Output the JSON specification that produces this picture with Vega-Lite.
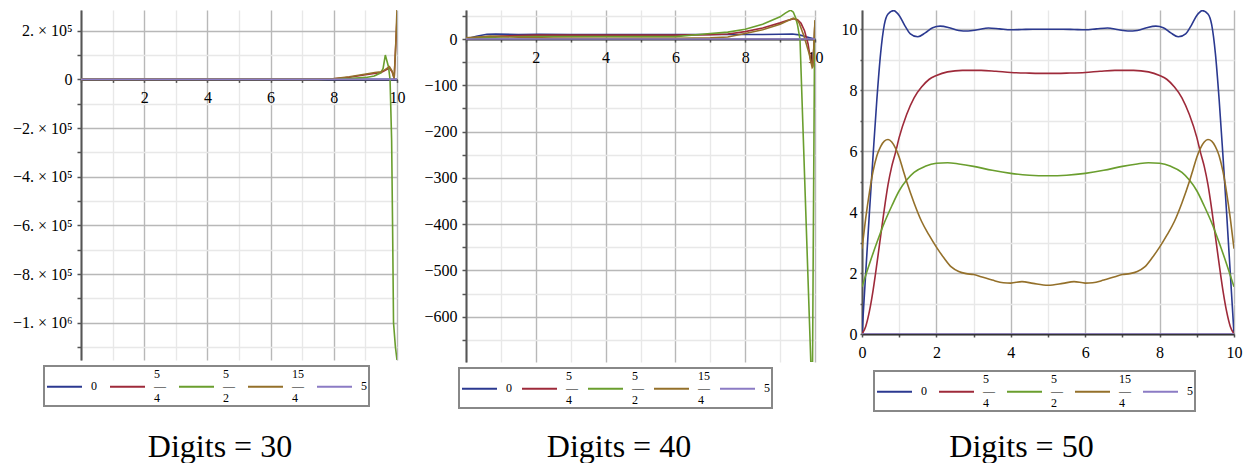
{
"$schema": "https://vega.github.io/schema/vega-lite/v6.json",
"background": "white",
"padding": {"left": 12, "top": 7, "right": 5, "bottom": 0},
"spacing": 18,
"datasets": {
"d30": [
{"s":"0","x":0,"y":0},{"s":"0","x":10,"y":0},
{"s":"5/4","x":0,"y":0},{"s":"5/4","x":7.5,"y":0},{"s":"5/4","x":8,"y":2000},{"s":"5/4","x":8.5,"y":9000},{"s":"5/4","x":9,"y":19000},{"s":"5/4","x":9.5,"y":28000},{"s":"5/4","x":9.76,"y":47000},{"s":"5/4","x":9.85,"y":30000},{"s":"5/4","x":9.91,"y":3000},{"s":"5/4","x":10,"y":250000},
{"s":"5/2","x":0,"y":0},{"s":"5/2","x":7.5,"y":0},{"s":"5/2","x":8.49,"y":3000},{"s":"5/2","x":9.02,"y":8000},{"s":"5/2","x":9.28,"y":13500},{"s":"5/2","x":9.49,"y":27000},{"s":"5/2","x":9.56,"y":45000},{"s":"5/2","x":9.63,"y":100000},{"s":"5/2","x":9.73,"y":52000},{"s":"5/2","x":9.78,"y":0},{"s":"5/2","x":9.83,"y":-250000},{"s":"5/2","x":9.86,"y":-600000},{"s":"5/2","x":9.89,"y":-1000000},{"s":"5/2","x":9.95,"y":-1100000},{"s":"5/2","x":10,"y":-1153000},
{"s":"15/4","x":0,"y":0},{"s":"15/4","x":7.5,"y":500},{"s":"15/4","x":7.96,"y":2500},{"s":"15/4","x":8.49,"y":11000},{"s":"15/4","x":9.02,"y":22000},{"s":"15/4","x":9.3,"y":28000},{"s":"15/4","x":9.49,"y":31000},{"s":"15/4","x":9.6,"y":38000},{"s":"15/4","x":9.76,"y":52000},{"s":"15/4","x":9.84,"y":35000},{"s":"15/4","x":9.91,"y":4000},{"s":"15/4","x":9.96,"y":140000},{"s":"15/4","x":10,"y":290000},
{"s":"5","x":0,"y":0},{"s":"5","x":10,"y":0}
],
"d40": [
{"s":"0","x":0,"y":0},{"s":"0","x":0.3,"y":6},{"s":"0","x":0.6,"y":10.2},{"s":"0","x":0.85,"y":10.7},{"s":"0","x":1.5,"y":9.8},{"s":"0","x":2.1,"y":10.1},{"s":"0","x":3,"y":10},{"s":"0","x":5,"y":10},{"s":"0","x":7,"y":10},{"s":"0","x":8,"y":10},{"s":"0","x":8.5,"y":9.8},{"s":"0","x":9,"y":10.3},{"s":"0","x":9.35,"y":11},{"s":"0","x":9.55,"y":9},{"s":"0","x":9.7,"y":6},{"s":"0","x":9.85,"y":3},{"s":"0","x":10,"y":0},
{"s":"5/4","x":0,"y":0},{"s":"5/4","x":0.5,"y":3.2},{"s":"5/4","x":1,"y":6.5},{"s":"5/4","x":2,"y":8.5},{"s":"5/4","x":3,"y":8.6},{"s":"5/4","x":5,"y":8.5},{"s":"5/4","x":6,"y":8.6},{"s":"5/4","x":7,"y":9.5},{"s":"5/4","x":7.5,"y":11},{"s":"5/4","x":8,"y":16},{"s":"5/4","x":8.5,"y":24},{"s":"5/4","x":9,"y":35},{"s":"5/4","x":9.2,"y":40},{"s":"5/4","x":9.4,"y":44},{"s":"5/4","x":9.5,"y":42},{"s":"5/4","x":9.6,"y":34},{"s":"5/4","x":9.7,"y":18},{"s":"5/4","x":9.8,"y":-10},{"s":"5/4","x":9.88,"y":-48},{"s":"5/4","x":9.93,"y":-58},{"s":"5/4","x":9.97,"y":-15},{"s":"5/4","x":10,"y":38},
{"s":"5/2","x":0,"y":1.5},{"s":"5/2","x":1,"y":4.7},{"s":"5/2","x":2,"y":5.6},{"s":"5/2","x":3,"y":5.5},{"s":"5/2","x":5,"y":5.2},{"s":"5/2","x":6,"y":5.3},{"s":"5/2","x":7,"y":12},{"s":"5/2","x":7.5,"y":15},{"s":"5/2","x":8,"y":21},{"s":"5/2","x":8.5,"y":32},{"s":"5/2","x":9,"y":48},{"s":"5/2","x":9.15,"y":56},{"s":"5/2","x":9.3,"y":62.5},{"s":"5/2","x":9.38,"y":58},{"s":"5/2","x":9.45,"y":45},{"s":"5/2","x":9.5,"y":30},{"s":"5/2","x":9.57,"y":0},{"s":"5/2","x":9.65,"y":-180},{"s":"5/2","x":9.72,"y":-338},{"s":"5/2","x":9.8,"y":-518},{"s":"5/2","x":9.88,"y":-698},{"s":"5/2","x":9.93,"y":-698},{"s":"5/2","x":9.96,"y":-330},{"s":"5/2","x":9.99,"y":20},{"s":"5/2","x":10,"y":38},
{"s":"15/4","x":0,"y":2.8},{"s":"15/4","x":0.7,"y":6.4},{"s":"15/4","x":1.5,"y":4},{"s":"15/4","x":2.5,"y":2.1},{"s":"15/4","x":4,"y":1.7},{"s":"15/4","x":5,"y":1.6},{"s":"15/4","x":6,"y":1.7},{"s":"15/4","x":7,"y":2.5},{"s":"15/4","x":7.5,"y":4.5},{"s":"15/4","x":8,"y":12},{"s":"15/4","x":8.5,"y":20},{"s":"15/4","x":9,"y":32},{"s":"15/4","x":9.2,"y":39},{"s":"15/4","x":9.38,"y":45},{"s":"15/4","x":9.5,"y":40},{"s":"15/4","x":9.55,"y":34},{"s":"15/4","x":9.69,"y":5},{"s":"15/4","x":9.83,"y":-31},{"s":"15/4","x":9.92,"y":-62},{"s":"15/4","x":9.94,"y":-60},{"s":"15/4","x":9.97,"y":-10},{"s":"15/4","x":10,"y":41},
{"s":"5","x":0,"y":0},{"s":"5","x":10,"y":0}
],
"d50": [
{"s":"0","x":0,"y":0},{"s":"0","x":0.1,"y":2.0},{"s":"0","x":0.2,"y":4.0},{"s":"0","x":0.3,"y":5.9},{"s":"0","x":0.4,"y":7.7},{"s":"0","x":0.5,"y":9.2},{"s":"0","x":0.6,"y":10.15},{"s":"0","x":0.7,"y":10.5},{"s":"0","x":0.85,"y":10.61},{"s":"0","x":1.0,"y":10.45},{"s":"0","x":1.15,"y":10.12},{"s":"0","x":1.3,"y":9.85},{"s":"0","x":1.5,"y":9.75},{"s":"0","x":1.7,"y":9.88},{"s":"0","x":1.9,"y":10.05},{"s":"0","x":2.1,"y":10.1},{"s":"0","x":2.35,"y":10.05},{"s":"0","x":2.6,"y":9.96},{"s":"0","x":2.85,"y":9.94},{"s":"0","x":3.1,"y":9.98},{"s":"0","x":3.4,"y":10.04},{"s":"0","x":3.7,"y":10.01},{"s":"0","x":4.0,"y":9.98},{"s":"0","x":4.3,"y":9.99},{"s":"0","x":4.6,"y":10.0},{"s":"0","x":5.0,"y":10.0},{"s":"0","x":5.4,"y":10.0},{"s":"0","x":5.7,"y":9.99},{"s":"0","x":6.0,"y":9.98},{"s":"0","x":6.3,"y":10.01},{"s":"0","x":6.6,"y":10.04},{"s":"0","x":6.9,"y":9.98},{"s":"0","x":7.15,"y":9.94},{"s":"0","x":7.4,"y":9.96},{"s":"0","x":7.65,"y":10.05},{"s":"0","x":7.9,"y":10.1},{"s":"0","x":8.1,"y":10.05},{"s":"0","x":8.3,"y":9.88},{"s":"0","x":8.5,"y":9.75},{"s":"0","x":8.7,"y":9.85},{"s":"0","x":8.85,"y":10.12},{"s":"0","x":9.0,"y":10.45},{"s":"0","x":9.15,"y":10.61},{"s":"0","x":9.3,"y":10.5},{"s":"0","x":9.4,"y":10.15},{"s":"0","x":9.5,"y":9.2},{"s":"0","x":9.6,"y":7.7},{"s":"0","x":9.7,"y":5.9},{"s":"0","x":9.8,"y":4.0},{"s":"0","x":9.9,"y":2.0},{"s":"0","x":10,"y":0},
{"s":"5/4","x":0,"y":0},{"s":"5/4","x":0.1,"y":0.25},{"s":"5/4","x":0.2,"y":0.75},{"s":"5/4","x":0.3,"y":1.45},{"s":"5/4","x":0.4,"y":2.3},{"s":"5/4","x":0.5,"y":3.2},{"s":"5/4","x":0.6,"y":4.1},{"s":"5/4","x":0.7,"y":4.9},{"s":"5/4","x":0.8,"y":5.5},{"s":"5/4","x":0.9,"y":5.95},{"s":"5/4","x":1.0,"y":6.45},{"s":"5/4","x":1.2,"y":7.2},{"s":"5/4","x":1.4,"y":7.75},{"s":"5/4","x":1.6,"y":8.1},{"s":"5/4","x":1.8,"y":8.35},{"s":"5/4","x":2.0,"y":8.48},{"s":"5/4","x":2.3,"y":8.6},{"s":"5/4","x":2.7,"y":8.65},{"s":"5/4","x":3.2,"y":8.65},{"s":"5/4","x":3.6,"y":8.62},{"s":"5/4","x":4.0,"y":8.58},{"s":"5/4","x":4.5,"y":8.56},{"s":"5/4","x":5.0,"y":8.55},{"s":"5/4","x":5.5,"y":8.56},{"s":"5/4","x":6.0,"y":8.58},{"s":"5/4","x":6.4,"y":8.62},{"s":"5/4","x":6.8,"y":8.65},{"s":"5/4","x":7.3,"y":8.65},{"s":"5/4","x":7.7,"y":8.6},{"s":"5/4","x":8.0,"y":8.48},{"s":"5/4","x":8.2,"y":8.35},{"s":"5/4","x":8.4,"y":8.1},{"s":"5/4","x":8.6,"y":7.75},{"s":"5/4","x":8.8,"y":7.2},{"s":"5/4","x":9.0,"y":6.45},{"s":"5/4","x":9.1,"y":5.95},{"s":"5/4","x":9.2,"y":5.5},{"s":"5/4","x":9.3,"y":4.9},{"s":"5/4","x":9.4,"y":4.1},{"s":"5/4","x":9.5,"y":3.2},{"s":"5/4","x":9.6,"y":2.3},{"s":"5/4","x":9.7,"y":1.45},{"s":"5/4","x":9.8,"y":0.75},{"s":"5/4","x":9.9,"y":0.25},{"s":"5/4","x":10,"y":0},
{"s":"5/2","x":0,"y":1.55},{"s":"5/2","x":0.2,"y":2.3},{"s":"5/2","x":0.4,"y":3.0},{"s":"5/2","x":0.6,"y":3.65},{"s":"5/2","x":0.8,"y":4.2},{"s":"5/2","x":1.0,"y":4.7},{"s":"5/2","x":1.2,"y":5.05},{"s":"5/2","x":1.4,"y":5.3},{"s":"5/2","x":1.7,"y":5.5},{"s":"5/2","x":2.0,"y":5.6},{"s":"5/2","x":2.3,"y":5.62},{"s":"5/2","x":2.6,"y":5.58},{"s":"5/2","x":3.0,"y":5.5},{"s":"5/2","x":3.5,"y":5.37},{"s":"5/2","x":4.0,"y":5.27},{"s":"5/2","x":4.5,"y":5.21},{"s":"5/2","x":5.0,"y":5.19},{"s":"5/2","x":5.5,"y":5.21},{"s":"5/2","x":6.0,"y":5.27},{"s":"5/2","x":6.5,"y":5.37},{"s":"5/2","x":7.0,"y":5.5},{"s":"5/2","x":7.4,"y":5.58},{"s":"5/2","x":7.7,"y":5.62},{"s":"5/2","x":8.0,"y":5.6},{"s":"5/2","x":8.3,"y":5.5},{"s":"5/2","x":8.6,"y":5.3},{"s":"5/2","x":8.8,"y":5.05},{"s":"5/2","x":9.0,"y":4.7},{"s":"5/2","x":9.2,"y":4.2},{"s":"5/2","x":9.4,"y":3.65},{"s":"5/2","x":9.6,"y":3.0},{"s":"5/2","x":9.8,"y":2.3},{"s":"5/2","x":10,"y":1.55},
{"s":"15/4","x":0,"y":2.8},{"s":"15/4","x":0.1,"y":3.8},{"s":"15/4","x":0.2,"y":4.65},{"s":"15/4","x":0.3,"y":5.35},{"s":"15/4","x":0.4,"y":5.85},{"s":"15/4","x":0.5,"y":6.15},{"s":"15/4","x":0.6,"y":6.33},{"s":"15/4","x":0.7,"y":6.38},{"s":"15/4","x":0.8,"y":6.3},{"s":"15/4","x":0.9,"y":6.1},{"s":"15/4","x":1.0,"y":5.8},{"s":"15/4","x":1.1,"y":5.4},{"s":"15/4","x":1.2,"y":5.0},{"s":"15/4","x":1.4,"y":4.3},{"s":"15/4","x":1.6,"y":3.7},{"s":"15/4","x":1.8,"y":3.25},{"s":"15/4","x":2.0,"y":2.85},{"s":"15/4","x":2.2,"y":2.5},{"s":"15/4","x":2.4,"y":2.2},{"s":"15/4","x":2.6,"y":2.05},{"s":"15/4","x":2.8,"y":1.98},{"s":"15/4","x":3.0,"y":1.95},{"s":"15/4","x":3.2,"y":1.88},{"s":"15/4","x":3.5,"y":1.77},{"s":"15/4","x":3.8,"y":1.68},{"s":"15/4","x":4.0,"y":1.67},{"s":"15/4","x":4.3,"y":1.72},{"s":"15/4","x":4.6,"y":1.66},{"s":"15/4","x":5.0,"y":1.6},{"s":"15/4","x":5.4,"y":1.66},{"s":"15/4","x":5.7,"y":1.72},{"s":"15/4","x":6.0,"y":1.67},{"s":"15/4","x":6.2,"y":1.68},{"s":"15/4","x":6.5,"y":1.77},{"s":"15/4","x":6.8,"y":1.88},{"s":"15/4","x":7.0,"y":1.95},{"s":"15/4","x":7.2,"y":1.98},{"s":"15/4","x":7.4,"y":2.05},{"s":"15/4","x":7.6,"y":2.2},{"s":"15/4","x":7.8,"y":2.5},{"s":"15/4","x":8.0,"y":2.85},{"s":"15/4","x":8.2,"y":3.25},{"s":"15/4","x":8.4,"y":3.7},{"s":"15/4","x":8.6,"y":4.3},{"s":"15/4","x":8.8,"y":5.0},{"s":"15/4","x":8.9,"y":5.4},{"s":"15/4","x":9.0,"y":5.8},{"s":"15/4","x":9.1,"y":6.1},{"s":"15/4","x":9.2,"y":6.3},{"s":"15/4","x":9.3,"y":6.38},{"s":"15/4","x":9.4,"y":6.33},{"s":"15/4","x":9.5,"y":6.15},{"s":"15/4","x":9.6,"y":5.85},{"s":"15/4","x":9.7,"y":5.35},{"s":"15/4","x":9.8,"y":4.65},{"s":"15/4","x":9.9,"y":3.8},{"s":"15/4","x":10,"y":2.8},
{"s":"5","x":0,"y":0},{"s":"5","x":5,"y":0},{"s":"5","x":10,"y":0}
]
},
"hconcat": [
{
"width": 316, "height": 350,
"data": {"name": "d30"},
"mark": {"type": "line", "clip": true, "strokeWidth": 1.6},
"encoding": {
"x": {"field": "x", "type": "quantitative", "scale": {"domain": [0, 10], "nice": false},
 "axis": {"title": "Digits = 30", "titleX": 138.5, "titleY": 376.6, "values": [0,1,2,3,4,5,6,7,8,9,10], "offset": -280.6, "labelExpr": "datum.value % 2 === 0 && datum.value > 0 ? datum.label : ''", "gridColor": {"condition": {"test": "datum.value % 2 === 0", "value": "#b8b8b8"}, "value": "#e8e8e8"}, "domainColor": "#333", "tickSize": 3, "labelPadding": 7}},
"y": {"field": "y", "type": "quantitative", "scale": {"domain": [-1153000, 285000], "nice": false, "zero": false},
 "axis": {"title": null, "values": [-1100000,-1000000,-900000,-800000,-700000,-600000,-500000,-400000,-300000,-200000,-100000,0,100000,200000], "labelExpr": "datum.value === 0 ? '0' : datum.value % 200000 !== 0 ? '' : datum.value === -1000000 ? '−1. × 10⁶' : (datum.value < 0 ? '−' : '') + format(abs(datum.value) / 100000, 'd') + '. × 10⁵'", "gridColor": {"condition": {"test": "datum.value % 200000 === 0", "value": "#b8b8b8"}, "value": "#e8e8e8"}}},
"color": {"field": "s", "type": "nominal", "sort": ["0","5/4","5/2","15/4","5"],
 "scale": {"domain": ["0","5/4","5/2","15/4","5"], "range": ["#2B3990","#9E2A3A","#6A9E2E","#94702A","#8B7BC4"]},
 "legend": {"orient": "none", "legendX": -37, "legendY": 356, "columnPadding": 9,
  "labelExpr": "datum.label === '5/4' ? ['\u00a05','—','\u00a04'] : datum.label === '5/2' ? ['\u00a05','—','\u00a02'] : datum.label === '15/4' ? ['15','—','\u00a04'] : ['\u00a0', datum.label, '\u00a0']",
  "encoding": {"labels": {"lineHeight": {"value": 12}, "dy": {"value": -18}}}}}
}
},
{
"width": 349, "height": 352,
"data": {"name": "d40"},
"mark": {"type": "line", "clip": true, "strokeWidth": 1.6},
"encoding": {
"x": {"field": "x", "type": "quantitative", "scale": {"domain": [0, 10], "nice": false},
 "axis": {"title": "Digits = 40", "titleX": 152.5, "titleY": 417, "values": [0,1,2,3,4,5,6,7,8,9,10], "offset": -322.95, "labelExpr": "datum.value % 2 === 0 && datum.value > 0 ? datum.label : ''", "gridColor": {"condition": {"test": "datum.value % 2 === 0", "value": "#b8b8b8"}, "value": "#e8e8e8"}, "domainColor": "#333", "tickSize": 3, "labelPadding": 7}},
"y": {"field": "y", "type": "quantitative", "scale": {"domain": [-698, 62.8], "nice": false, "zero": false},
 "axis": {"title": null, "values": [-650,-600,-550,-500,-450,-400,-350,-300,-250,-200,-150,-100,-50,0,50], "labelExpr": "datum.value % 100 !== 0 ? '' : datum.value < 0 ? '−' + abs(datum.value) : '0'", "gridColor": {"condition": {"test": "datum.value % 100 === 0", "value": "#b8b8b8"}, "value": "#e8e8e8"}}},
"color": {"field": "s", "type": "nominal", "sort": ["0","5/4","5/2","15/4","5"],
 "scale": {"domain": ["0","5/4","5/2","15/4","5"], "range": ["#2B3990","#9E2A3A","#6A9E2E","#94702A","#8B7BC4"]},
 "legend": {"orient": "none", "legendX": -7, "legendY": 358, "columnPadding": 6,
  "labelExpr": "datum.label === '5/4' ? ['\u00a05','—','\u00a04'] : datum.label === '5/2' ? ['\u00a05','—','\u00a02'] : datum.label === '15/4' ? ['15','—','\u00a04'] : ['\u00a0', datum.label, '\u00a0']",
  "encoding": {"labels": {"lineHeight": {"value": 12}, "dy": {"value": -18}}}}}
}
},
{
"width": 372, "height": 324,
"data": {"name": "d50"},
"mark": {"type": "line", "clip": true, "strokeWidth": 1.6, "interpolate": "monotone"},
"encoding": {
"x": {"field": "x", "type": "quantitative", "scale": {"domain": [0, 10], "nice": false},
 "axis": {"title": "Digits = 50", "titleX": 159, "titleY": 122, "values": [0,1,2,3,4,5,6,7,8,9,10], "labelExpr": "datum.value % 2 === 0 ? datum.label : ''", "gridColor": {"condition": {"test": "datum.value % 2 === 0", "value": "#b8b8b8"}, "value": "#e8e8e8"}, "domainColor": "#333", "tickSize": 3, "labelPadding": 7}},
"y": {"field": "y", "type": "quantitative", "scale": {"domain": [0, 10.63], "nice": false, "zero": false},
 "axis": {"title": null, "values": [0,1,2,3,4,5,6,7,8,9,10], "tickSize": 2, "labelPadding": 3, "labelExpr": "datum.value % 2 === 0 ? datum.label : ''", "gridColor": {"condition": {"test": "datum.value % 2 === 0", "value": "#b8b8b8"}, "value": "#e8e8e8"}}},
"color": {"field": "s", "type": "nominal", "sort": ["0","5/4","5/2","15/4","5"],
 "scale": {"domain": ["0","5/4","5/2","15/4","5"], "range": ["#2B3990","#9E2A3A","#6A9E2E","#94702A","#8B7BC4"]},
 "legend": {"orient": "none", "legendX": 12, "legendY": 361, "columnPadding": 8,
  "labelExpr": "datum.label === '5/4' ? ['\u00a05','—','\u00a04'] : datum.label === '5/2' ? ['\u00a05','—','\u00a02'] : datum.label === '15/4' ? ['15','—','\u00a04'] : ['\u00a0', datum.label, '\u00a0']",
  "encoding": {"labels": {"lineHeight": {"value": 12}, "dy": {"value": -18}}}}}
}
}
],
"resolve": {"legend": {"color": "independent"}},
"config": {
"view": {"stroke": null},
"axis": {"labelFont": "Liberation Serif, Times New Roman, serif", "labelFontSize": 16, "labelColor": "#000", "domainColor": "#555", "domainWidth": 2, "tickColor": "#555", "tickWidth": 1.5, "tickSize": 4, "labelPadding": 5, "gridWidth": 1.4, "labelOverlap": false, "labelFlush": false, "labelBound": false,
 "titleFont": "Liberation Serif, Times New Roman, serif", "titleFontSize": 32, "titleFontWeight": "normal", "titleColor": "#000", "titleBaseline": "alphabetic", "titleAlign": "center", "titleAngle": 0},
"legend": {"title": null, "direction": "horizontal", "symbolType": "stroke", "symbolSize": 1225, "symbolStrokeWidth": 2, "labelFont": "Liberation Serif, Times New Roman, serif", "labelFontSize": 12, "labelColor": "#000", "labelBaseline": "top", "labelOffset": 8, "padding": 2, "strokeColor": "#888", "strokeWidth": 2}
}
}
